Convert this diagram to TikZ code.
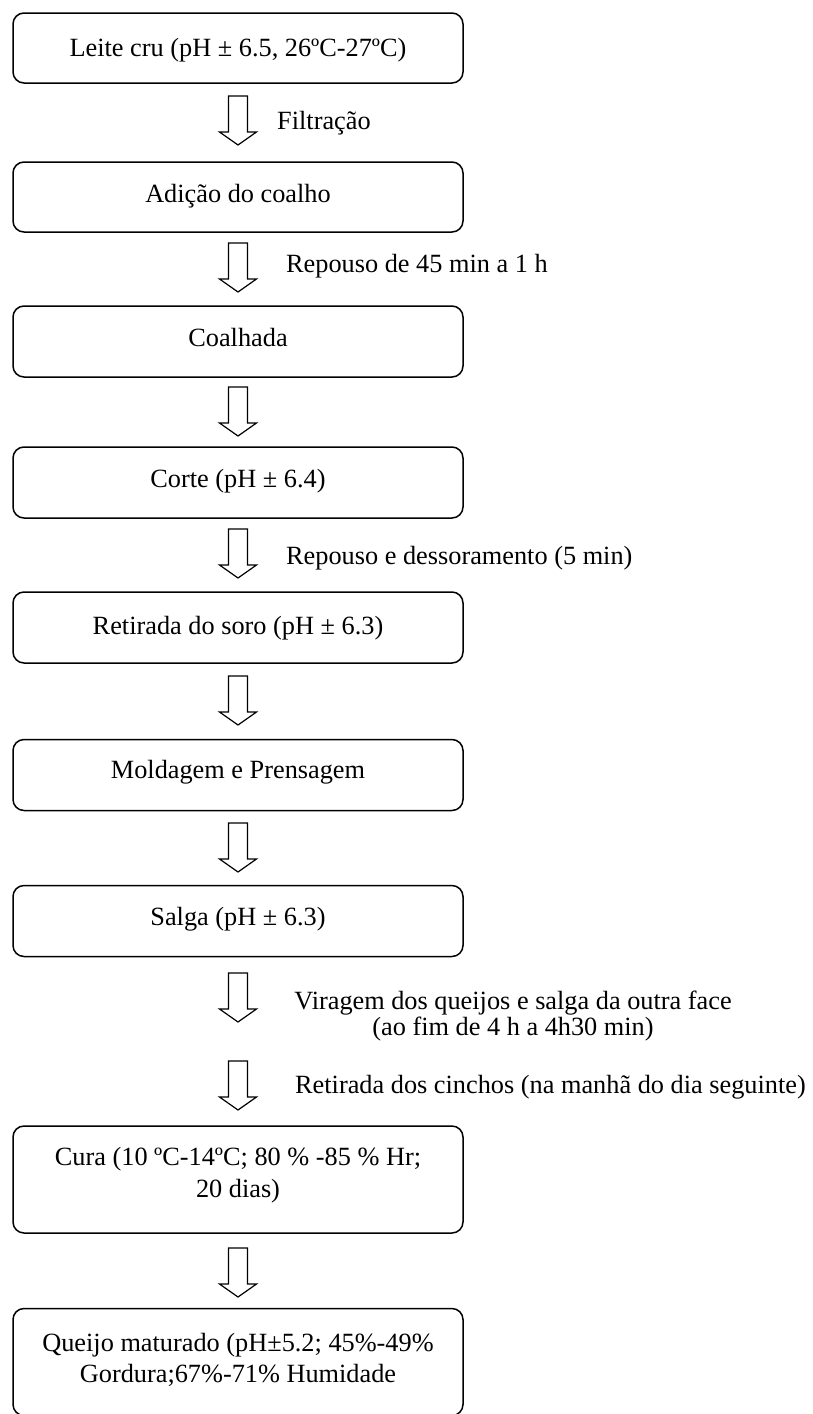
\documentclass[tikz,border=0pt]{standalone}
\usepackage{fontspec}
\setmainfont{Liberation Serif}
\usetikzlibrary{calc}
\begin{document}
\begin{tikzpicture}[x=1pt,y=-1pt,
  stepbox/.style={draw, line width=1.5pt, rounded corners=11pt, minimum width=450pt, inner sep=0pt},
  lbl/.style={font=\fontsize{26.3}{31.5}\selectfont, inner sep=0pt, align=center},
  tight/.style={font=\fontsize{26.3}{26.5}\selectfont},
  blockarr/.style={draw, line width=1.2pt, line join=miter},
  pics/downarr/.style={code={\draw[blockarr] (-9.5,0) -- (9.5,0) -- (9.5,36) -- (18.5,36) -- (0,49) -- (-18.5,36) -- (-9.5,36) -- cycle;}}]
\clip (0,0) rectangle (813,1414);
% boxes
\node[stepbox, minimum height=70pt] (b1) at (238,48) {};
\node[stepbox, minimum height=70pt] (b2) at (238,197) {};
\node[stepbox, minimum height=71pt] (b3) at (238,341.5) {};
\node[stepbox, minimum height=71pt] (b4) at (238,482.5) {};
\node[stepbox, minimum height=71pt] (b5) at (238,627.5) {};
\node[stepbox, minimum height=71pt] (b6) at (238,775) {};
\node[stepbox, minimum height=71pt] (b7) at (238,921) {};
\node[stepbox, minimum height=107pt] (b8) at (238,1179.5) {};
\node[stepbox, minimum height=107pt] (b9) at (238,1362) {};
% box texts
\node[lbl, anchor=base] (t1) at ($(b1.north)+(0,44)$) {Leite cru (pH ± 6.5, 26ºC-27ºC)};
\node[lbl, anchor=base] (t2) at ($(b2.north)+(0,41)$) {Adição do coalho};
\node[lbl, anchor=base] (t3) at ($(b3.north)+(0,41)$) {Coalhada};
\node[lbl, anchor=base] (t4) at ($(b4.north)+(0,41)$) {Corte (pH ± 6.4)};
\node[lbl, anchor=base] (t5) at ($(b5.north)+(0,43)$) {Retirada do soro (pH ± 6.3)};
\node[lbl, anchor=base] (t6) at ($(b6.north)+(0,40)$) {Moldagem e Prensagem};
\node[lbl, anchor=base] (t7) at ($(b7.north)+(0,41)$) {Salga (pH ± 6.3)};
\node[lbl] (t8) at ($(b8.north)+(0,50)$) {Cura (10 ºC-14ºC; 80 \% -85 \% Hr;\\20 dias)};
\node[lbl] (t9) at ($(b9.north)+(0,52)$) {Queijo maturado (pH±5.2; 45\%-49\%\\Gordura;67\%-71\% Humidade};
% arrows
\coordinate (a1) at (238,96);
\coordinate (a2) at (238,243);
\coordinate (a3) at (238,387);
\coordinate (a4) at (238,529);
\coordinate (a5) at (238,676);
\coordinate (a6) at (238,823);
\coordinate (a7) at (238,973);
\coordinate (a8) at (238,1061);
\coordinate (a9) at (238,1248);
\foreach \a in {a1,a2,a3,a4,a5,a6,a7,a8,a9} {\pic at (\a) {downarr};}
% arrow labels
\node[lbl, anchor=base west] (l1) at (277,129) {Filtração};
\node[lbl, anchor=base west] (l2) at (286,272) {Repouso de 45 min a 1 h};
\node[lbl, anchor=base west] (l4) at (286,564) {Repouso e dessoramento (5 min)};
\node[lbl, tight] (l7) at (513,1016) {Viragem dos queijos e salga da outra face\\(ao fim de 4 h a 4h30 min)};
\node[lbl, anchor=base west] (l8) at (295,1093) {Retirada dos cinchos (na manhã do dia seguinte)};
\end{tikzpicture}
\end{document}
